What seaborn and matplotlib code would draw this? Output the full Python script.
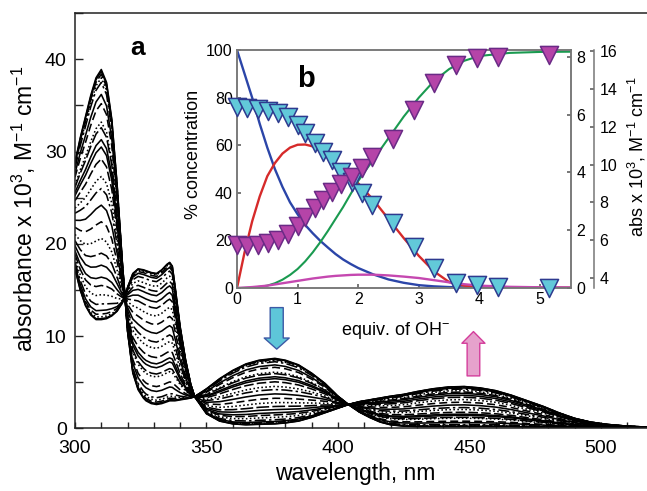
import matplotlib
matplotlib.use('Agg')
import matplotlib.pyplot as plt
from matplotlib.ticker import MultipleLocator
import numpy as np
import pandas as pd
import seaborn as sns

# ---- panel a: the two end spectra (absorbance x 10^3) ----
wavelength = [300, 302, 304, 306, 308, 310, 312, 314, 316, 318, 319, 320, 322, 324,
              326, 327, 329, 331, 333, 335, 336, 337, 338, 340, 342, 344, 345.5, 350,
              355, 360, 365, 370, 376, 380, 385, 390, 395, 400, 404, 408, 412, 416,
              420, 425, 430, 436, 442, 448, 454, 460, 466, 472, 478, 484, 490, 496,
              502, 510, 520]
spec_start = [28.8, 31.5, 33.8, 36.1, 38.0, 38.9, 37.5, 33.5, 26.5, 18.0, 14.3, 10.5, 6.0, 4.2,
              3.3, 3.0, 2.7, 2.6, 2.7, 2.9, 3.0, 3.0, 3.0, 3.1, 3.2, 3.3, 3.45, 4.3,
              5.4, 6.3, 7.0, 7.4, 7.6, 7.4, 6.9, 6.0, 4.9, 3.5, 2.6, 1.8, 1.2, 0.7,
              0.4, 0.25, 0.2, 0.2, 0.2, 0.2, 0.2, 0.2, 0.2, 0.15, 0.15, 0.12, 0.1, 0.1,
              0.08, 0.06, 0.05]
spec_end = [17.3, 15.0, 13.3, 12.3, 11.8, 11.8, 11.9, 12.2, 12.7, 13.6, 14.3, 15.3, 16.8, 17.3,
            17.2, 17.1, 16.9, 16.8, 17.2, 17.8, 18.0, 17.6, 15.5, 11.0, 7.5, 4.8, 3.45, 1.6,
            0.8, 0.5, 0.4, 0.45, 0.5, 0.6, 0.8, 1.2, 1.7, 2.2, 2.6, 2.9, 3.1, 3.3,
            3.5, 3.7, 4.0, 4.3, 4.5, 4.55, 4.4, 4.1, 3.6, 3.0, 2.4, 1.7, 1.1, 0.7,
            0.45, 0.25, 0.12]
# height of every trace at 310 nm (places it between the end spectra)
peak310 = [38.9, 38.7, 38.4, 38.0, 37.5, 36.2, 35.2, 33.2, 32.6, 31.3, 30.5, 29.2, 27.3,
           26.0, 24.2, 22.4, 20.6, 19.0, 17.7, 16.4, 15.5, 14.5, 13.5, 12.8, 12.4, 12.1,
           11.9, 11.8]

# ---- panel b: species distribution (%) ----
equiv = [0, 0.125, 0.25, 0.375, 0.5, 0.625, 0.75, 0.875, 1.0, 1.125, 1.25, 1.375, 1.5,
         1.625, 1.75, 1.875, 2.0, 2.25, 2.5, 2.75, 3.0, 3.25, 3.5, 3.75, 4.0, 4.5, 5.0, 5.5]
conc_blue = [100, 90, 80, 69, 59, 50, 42.5, 36, 31, 26.5, 23, 19.8, 17,
             14.3, 12, 10.1, 8.4, 5.7, 3.6, 2.2, 1.2, 0.7, 0.4, 0.25, 0.15, 0.1, 0.05, 0.05]
conc_red = [0, 15, 28, 38.5, 47, 52.5, 56.5, 59, 60.2, 60.3, 59.5, 57.5, 55,
            52.5, 50, 47, 44, 37, 29, 21, 13.5, 7, 2.5, 1.0, 0.6, 0.3, 0.2, 0.1]
conc_green = [0, 0.03, 0.15, 0.5, 1.0, 2.0, 3.5, 5.5, 8, 11.2, 15, 19.3, 24,
              29, 34, 39.5, 45, 54, 63, 72, 80, 87, 92, 95.5, 97.5, 98.8, 99.2, 99.3]
conc_pink = [0, 0.2, 0.4, 0.7, 1.0, 1.5, 2.0, 2.5, 3.0, 3.5, 4.0, 4.4, 4.8,
             5.1, 5.3, 5.5, 5.6, 5.6, 5.3, 4.8, 4.2, 3.3, 2.4, 1.6, 1.0, 0.5, 0.3, 0.2]

# ---- panel b: titration points ----
titr_x = [0, 0.17, 0.34, 0.51, 0.68, 0.84, 1.0, 1.13, 1.28, 1.42, 1.57, 1.72, 1.89,
          2.06, 2.23, 2.58, 2.92, 3.25, 3.62, 3.96, 4.30, 5.14]
abs_cyan = [6.27, 6.22, 6.18, 6.12, 6.04, 5.90, 5.64, 5.35, 5.01, 4.72, 4.43, 4.02, 3.68,
            3.28, 2.87, 2.24, 1.43, 0.68, 0.17, 0.10, 0.05, 0.0]
abs_magenta = [5.76, 5.72, 5.76, 5.86, 6.02, 6.36, 6.76, 7.25, 7.69, 8.13, 8.57, 8.95, 9.36,
               9.80, 10.40, 11.35, 12.87, 14.28, 15.24, 15.60, 15.68, 15.77]

sns.set_theme(style='ticks')
plt.rcParams['font.family'] = ['Liberation Sans', 'DejaVu Sans']
plt.rcParams['mathtext.fontset'] = 'custom'
plt.rcParams['mathtext.rm'] = 'Liberation Sans'
plt.rcParams['mathtext.it'] = 'Liberation Sans:italic'
plt.rcParams['mathtext.bf'] = 'Liberation Sans:bold'
for key in ['text.color', 'axes.labelcolor', 'xtick.labelcolor', 'ytick.labelcolor']:
    plt.rcParams[key] = 'black'

fig = plt.figure(figsize=(6.47, 4.91), dpi=100)

# main panel
ax = fig.add_axes([0.1159, 0.1273, 0.8943, 0.8458])
A = np.array(spec_start)
B = np.array(spec_end)
i310 = wavelength.index(310)
rows = []
for k, p in enumerate(peak310):
    f = (A[i310] - p) / (A[i310] - B[i310])
    vals = (1 - f) * A + f * B
    for w, v in zip(wavelength, vals):
        rows.append({'wl': w, 'abs': v, 'trace': f't{k:02d}'})
df = pd.DataFrame(rows)

dash_cycle = ['', '', (6, 2), (1, 1.5), (7, 2, 1.5, 2), '', (5, 2.5), (1, 1.5), (8, 2)]
dashes = [dash_cycle[k % len(dash_cycle)] for k in range(len(peak310))]
dashes[0] = ''
dashes[-1] = ''
dashes[-2] = ''
sns.lineplot(data=df, x='wl', y='abs', style='trace', dashes=dashes, color='black',
             lw=1.15, legend=False, estimator=None, sort=False, ax=ax)

ax.set_xlim(300, 520)
ax.set_ylim(0, 45)
ax.xaxis.set_major_locator(MultipleLocator(50))
ax.xaxis.set_minor_locator(MultipleLocator(10))
ax.yaxis.set_major_locator(MultipleLocator(10))
ax.yaxis.set_minor_locator(MultipleLocator(5))
ax.tick_params(axis='both', which='both', direction='in', width=1, color='#222222',
               labelsize=14)
ax.tick_params(axis='x', which='both', length=4.5, pad=8)
ax.tick_params(axis='y', which='both', length=6, pad=6)
for s in ax.spines.values():
    s.set_linewidth(1.1)
    s.set_color('#222222')
ax.set_xlabel('wavelength, nm', fontsize=16.5)
ax.set_ylabel(r'absorbance x 10$^3$, M$^{-1}$ cm$^{-1}$', fontsize=16.5)
ax.xaxis.set_label_coords(0.484, -0.08)
ax.yaxis.set_label_coords(-0.064, 0.53)
ax.text(323.8, 41.2, 'a', fontsize=19, fontweight='bold', ha='center', va='center')

# arrows
ax.annotate('', xy=(376.7, 8.6), xytext=(376.7, 13.1),
            arrowprops=dict(arrowstyle='simple,head_width=1.8,head_length=0.8,tail_width=0.94',
                            mutation_scale=10, fc='#5ec6d9', ec='#3c5aa6', lw=1,
                            shrinkA=0, shrinkB=0))
ax.annotate('', xy=(451.5, 10.5), xytext=(451.5, 5.7),
            arrowprops=dict(arrowstyle='simple,head_width=1.66,head_length=0.84,tail_width=0.91',
                            mutation_scale=10, fc='#e6a2cc', ec='#d43d9b', lw=1,
                            shrinkA=0, shrinkB=0))

# inset panel b
ax_in = fig.add_axes([0.3663, 0.4134, 0.5162, 0.4847])
ax_in.set_facecolor('white')
sns.lineplot(x=equiv, y=conc_blue, color='#2b45a8', lw=1.7, ax=ax_in)
sns.lineplot(x=equiv, y=conc_red, color='#d62a2a', lw=1.7, ax=ax_in)
sns.lineplot(x=equiv, y=conc_green, color='#1a9a50', lw=1.5, ax=ax_in)
sns.lineplot(x=equiv, y=conc_pink, color='#c548b0', lw=1.7, ax=ax_in)
ax_in.set_xlim(0, 5.51)
ax_in.set_ylim(0, 100)
ax_in.set_xticks([0, 1, 2, 3, 4, 5])
ax_in.set_yticks([0, 20, 40, 60, 80, 100])
ax_in.tick_params(direction='in', length=3, labelsize=11.5, pad=3, color='#666666')
for s in ax_in.spines.values():
    s.set_color('#777777')
    s.set_linewidth(1.1)
ax_in.set_xlabel(r'equiv. of OH$^{-}$', fontsize=13)
ax_in.set_ylabel('% concentration', fontsize=13)
ax_in.xaxis.set_label_coords(0.476, -0.135)
ax_in.yaxis.set_label_coords(-0.105, 0.56)
ax_in.text(1.13, 87.8, 'b', fontsize=21, fontweight='bold', ha='center', va='center')

ax_r1 = ax_in.twinx()
ax_r1.set_ylim(0, 8.23)
ax_r1.set_yticks([0, 2, 4, 6, 8])
ax_r1.tick_params(direction='in', length=3, labelsize=11.5, pad=4, color='#666666')
for s in ax_r1.spines.values():
    s.set_color('#777777')
    s.set_linewidth(1.1)
sns.scatterplot(x=titr_x, y=abs_cyan, marker='v', s=170, color='#62c9d9',
                edgecolor='#2e3a8f', linewidth=1.1, clip_on=False, zorder=3, ax=ax_r1)

ax_r2 = ax_in.twinx()
ax_r2.spines['right'].set_position(('axes', 1.069))
for name in ['top', 'left', 'bottom']:
    ax_r2.spines[name].set_visible(False)
ax_r2.spines['right'].set_color('#777777')
ax_r2.spines['right'].set_linewidth(1.1)
ax_r2.set_ylim(3.49, 16.04)
ax_r2.set_yticks([4, 6, 8, 10, 12, 14, 16])
ax_r2.tick_params(direction='in', length=3, labelsize=11.5, pad=4, color='#666666')
sns.scatterplot(x=titr_x, y=abs_magenta, marker='v', s=170, color='#b544a8',
                edgecolor='#6a2a86', linewidth=1.1, clip_on=False, zorder=3, ax=ax_r2)

fig.text(636.7 / 647, 1 - 156.5 / 491, r'abs x 10$^3$, M$^{-1}$ cm$^{-1}$',
         rotation=90, ha='center', va='center', fontsize=13)

fig.savefig('out.png', dpi=100)
